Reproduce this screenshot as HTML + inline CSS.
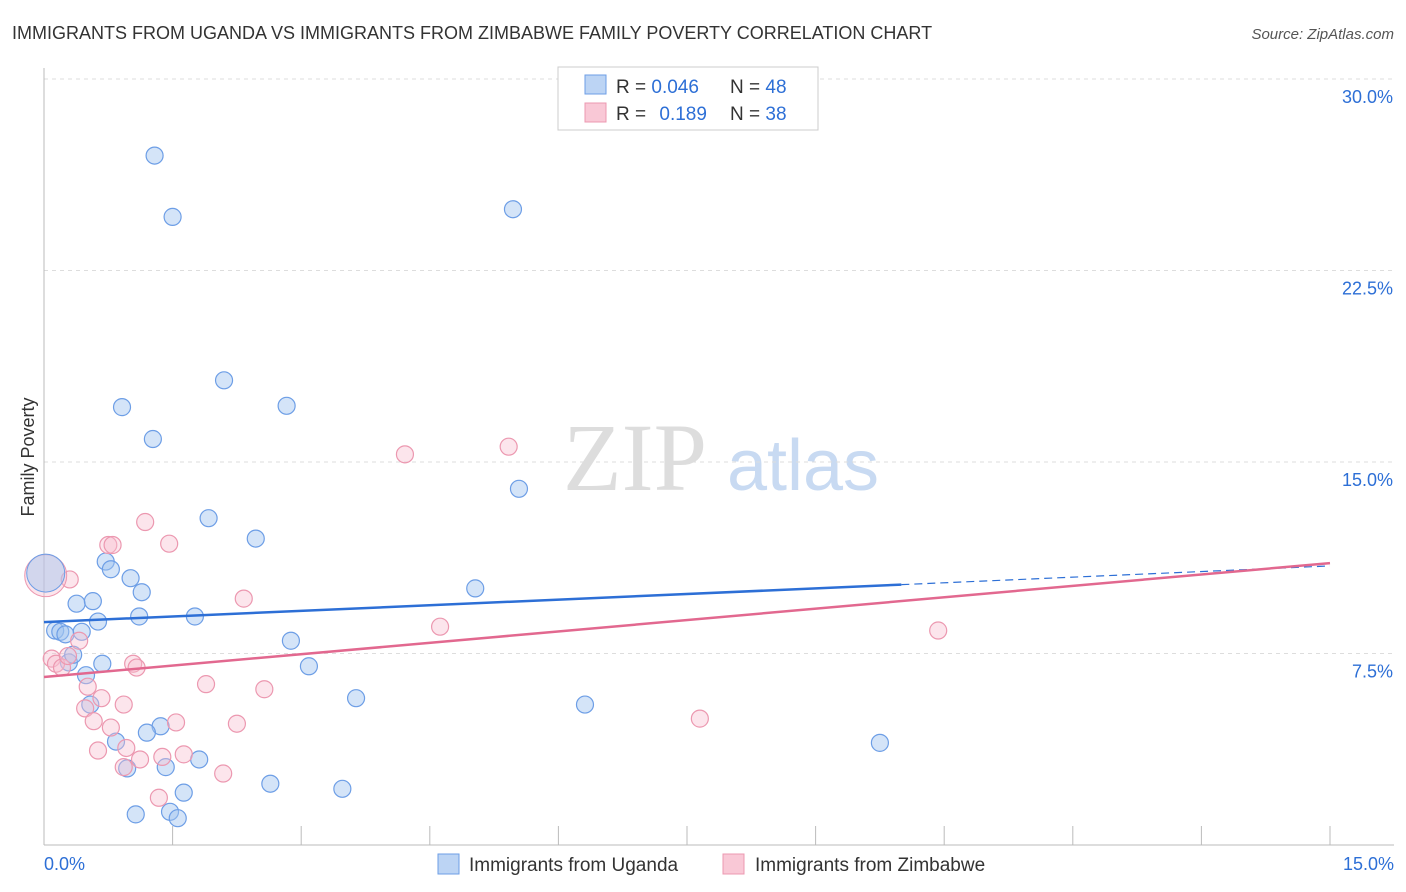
<!DOCTYPE html>
<html><head><meta charset="utf-8"><style>
body{margin:0;background:#fff;font-family:"Liberation Sans",sans-serif;}
#wrap{position:relative;width:1406px;height:892px;overflow:hidden}
</style></head><body>
<div id="wrap">
<svg id="svg" width="1406" height="892" xmlns="http://www.w3.org/2000/svg">
<text x="12" y="39" font-size="18" fill="#333">IMMIGRANTS FROM UGANDA VS IMMIGRANTS FROM ZIMBABWE FAMILY POVERTY CORRELATION CHART</text>
<text x="1394" y="39" font-size="15" fill="#555" font-style="italic" text-anchor="end">Source: ZipAtlas.com</text>
<text x="34" y="457" font-size="18" fill="#333" text-anchor="middle" transform="rotate(-90 34 457)">Family Poverty</text>
<g><text x="635" y="490" font-size="96" fill="#ddd" font-family="Liberation Serif,serif" text-anchor="middle">ZIP</text><text x="803" y="490" font-size="72" fill="#c8daf2" text-anchor="middle">atlas</text></g>
<g id="grid"></g><g id="axes"></g><g id="pts"></g><g id="lines"></g>
<g>
<rect x="558" y="67" width="260" height="63" fill="#fff" stroke="#ccc"/>
<rect x="585" y="75" width="21" height="19" fill="#bcd4f4" stroke="#6d9ee6"/>
<rect x="585" y="103" width="21" height="19" fill="#f9c8d6" stroke="#ec98b0"/>
<text x="616" y="93" font-size="19" fill="#333">R = <tspan fill="#2d6fd6">0.046</tspan></text>
<text x="730" y="93" font-size="19" fill="#333">N = <tspan fill="#2d6fd6">48</tspan></text>
<text x="616" y="120" font-size="19" fill="#333">R = <tspan fill="#2d6fd6" dx="8">0.189</tspan></text>
<text x="730" y="120" font-size="19" fill="#333">N = <tspan fill="#2d6fd6">38</tspan></text>
</g>
<g>
<rect x="438" y="854" width="21" height="20" fill="#bcd4f4" stroke="#6d9ee6"/>
<text x="469" y="871" font-size="19" fill="#333">Immigrants from Uganda</text>
<rect x="723" y="854" width="21" height="20" fill="#f9c8d6" stroke="#ec98b0"/>
<text x="755" y="871" font-size="19" fill="#333">Immigrants from Zimbabwe</text>
</g>
<text x="44" y="870" font-size="18" fill="#2d6fd6">0.0%</text>
<text x="1394" y="870" font-size="18" fill="#2d6fd6" text-anchor="end">15.0%</text>
</svg>
</div>
<script>
const yTicks=[7.5,15,22.5,30];
const yTickLabels=["7.5%","15.0%","22.5%","30.0%"];
const xTicks=[0,1.5,3,4.5,6,7.5,9,10.5,12,13.5,15];
const ugX=[1.29,1.50,5.47,2.10,0.91,2.83,1.27,5.54,1.92,2.47,0.72,0.78,1.01,1.14,5.03,0.38,0.57,1.11,1.76,0.63,0.13,0.19,0.25,0.44,2.88,0.29,0.34,0.68,3.09,0.49,0.54,3.64,6.31,0.84,1.36,1.20,9.75,0.97,1.42,1.81,2.64,1.63,3.48,1.07,1.47,1.56];
const ugY=[27.0,24.6,24.9,18.2,17.15,17.2,15.9,13.95,12.8,12.0,11.1,10.8,10.45,9.9,10.05,9.45,9.55,8.95,8.95,8.75,8.4,8.35,8.25,8.35,8.0,7.15,7.45,7.1,7.0,6.65,5.5,5.75,5.5,4.05,4.65,4.4,4.0,3.0,3.05,3.35,2.4,2.05,2.2,1.2,1.3,1.05];
const zwX=[4.21,5.42,1.18,1.46,0.75,0.80,0.30,2.33,4.62,10.43,0.41,0.09,0.14,0.21,0.28,1.04,1.08,0.51,1.89,2.57,0.67,0.93,0.48,0.58,1.54,2.25,7.65,0.78,0.96,0.63,1.63,1.38,1.12,0.93,2.09,1.34];
const zwY=[15.3,15.6,12.65,11.8,11.75,11.75,10.4,9.65,8.55,8.4,8.0,7.3,7.1,6.95,7.4,7.1,6.95,6.2,6.3,6.1,5.75,5.5,5.35,4.85,4.8,4.75,4.95,4.6,3.8,3.7,3.55,3.45,3.35,3.05,2.8,1.85];
const bigX=[0.02], bigUgY=[10.65], bigZwY=[10.55];
const ugTrend=[8.73,10.93], zwTrend=[6.58,11.04], ugSolidEnd=[10.0];
const NS="http://www.w3.org/2000/svg";
const X=v=>44+v/15*1286, Y=v=>845-v/30*766;
function mk(p,t,a){const e=document.createElementNS(NS,t);for(const k in a)e.setAttribute(k,a[k]);document.getElementById(p).appendChild(e);return e;}
yTicks.forEach((t,i)=>{
 const l=mk('grid','line',{x1:44,x2:1394,y1:Y(t),y2:Y(t),stroke:'#ddd','stroke-dasharray':'4 4'});
 
 
 const tx=mk('grid','text',{x:1393,y:Y(t)+24,'font-size':18,fill:'#2d6fd6','text-anchor':'end'});
 tx.textContent=yTickLabels[i];
 
 
});
const ya=mk('axes','line',{x1:44,x2:44,y1:68,y2:845,stroke:'#bbb'});


const xa=mk('axes','line',{x1:44,x2:1394,y1:845,y2:845,stroke:'#bbb'});


xTicks.forEach(t=>{const l=mk('axes','line',{x1:X(t),x2:X(t),y1:826,y2:845,stroke:'#bbb'});
 
 });
ugX.forEach((x,i)=>{const c=mk('pts','circle',{cx:X(x),cy:Y(ugY[i]),r:8.5,fill:'rgba(160,196,240,0.45)',stroke:'#6d9ee6','stroke-width':1.2});
 
 });
zwX.forEach((x,i)=>{const c=mk('pts','circle',{cx:X(x),cy:Y(zwY[i]),r:8.5,fill:'rgba(248,190,208,0.4)',stroke:'#ec98b0','stroke-width':1.2});
 
 });
const b1=mk('pts','circle',{cx:X(bigX[0]),cy:Y(bigZwY[0]),r:21,fill:'rgba(248,190,208,0.4)',stroke:'#ec98b0'});


const b2=mk('pts','circle',{cx:X(bigX[0]),cy:Y(bigUgY[0]),r:19,fill:'rgba(160,196,240,0.45)',stroke:'#6d9ee6'});


const f=(tr,x)=>tr[0]+(tr[1]-tr[0])*x/15;
const l1=mk('lines','line',{x1:X(0),y1:Y(ugTrend[0]),x2:X(ugSolidEnd[0]),y2:Y(f(ugTrend,ugSolidEnd[0])),stroke:'#2d6fd6','stroke-width':2.5});


const l2=mk('lines','line',{x1:X(ugSolidEnd[0]),y1:Y(f(ugTrend,ugSolidEnd[0])),x2:X(15),y2:Y(ugTrend[1]),stroke:'#2d6fd6','stroke-width':1.2,'stroke-dasharray':'8 5'});


const l3=mk('lines','line',{x1:X(0),y1:Y(zwTrend[0]),x2:X(15),y2:Y(zwTrend[1]),stroke:'#e2688f','stroke-width':2.5});


</script>
</body></html>
